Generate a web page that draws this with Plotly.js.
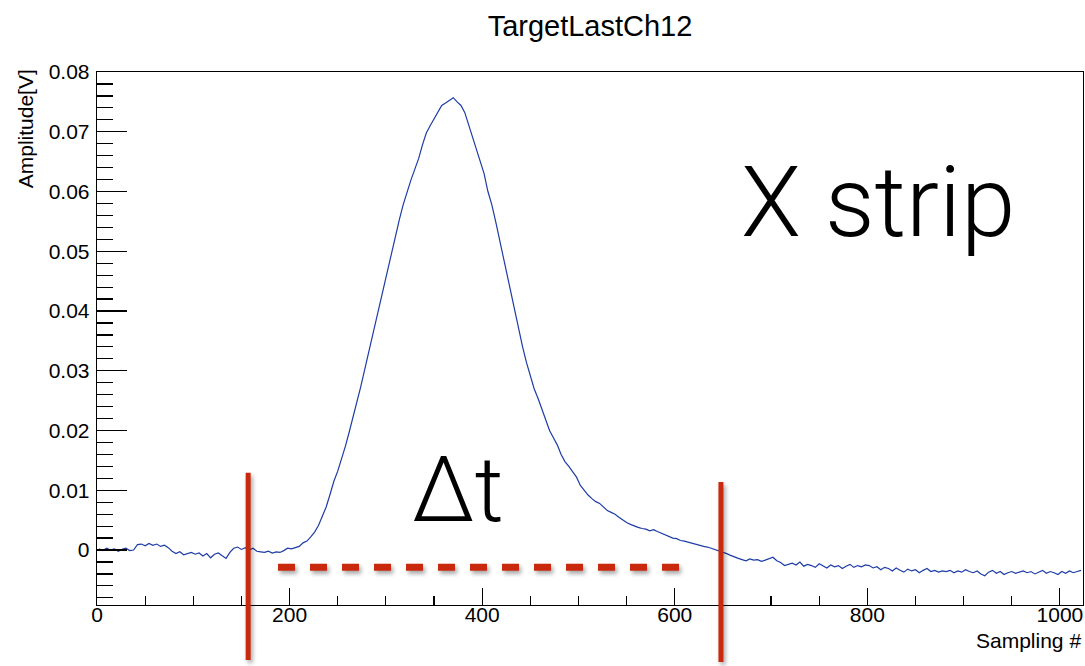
<!DOCTYPE html>
<html>
<head>
<meta charset="utf-8">
<script src="https://cdn.plot.ly/plotly-3.0.1.min.js"></script>
<style>
  html, body { margin: 0; padding: 0; background: #fff; }
  #chart { width: 1085px; height: 666px; }
</style>
</head>
<body>
<div id="chart"></div>
<script>
// Waveform of channel 12, sampled in bins of 4 samples (1024 samples total)
const binWidth = 4;
const amplitude = [
  // 0 - 200
  0.0002, -0.0001, 0.0003, 0.0000, 0.0002, -0.0002, 0.0001, 0.0003, -0.0001, 0.0000,
  0.0009, 0.0010, 0.0007, 0.0011, 0.0008, 0.0010, 0.0006, 0.0008,
  0.0004, -0.0002, -0.0006, -0.0003, -0.0008,
  -0.0006, -0.0004, -0.0007, -0.0005, -0.0010, -0.0006, -0.0013, -0.0007, -0.0005, -0.0009, -0.0014, -0.0004,
  0.0003, 0.0005, 0.0001, 0.0004, 0.0000, 0.0003, -0.0002,
  -0.0003, -0.0004, -0.0002, -0.0005, -0.0003, -0.0004, -0.0001, 0.0003,
  // 200 - 400 (rising edge and peak)
  0.0002, 0.0004, 0.0006, 0.0012, 0.0015, 0.0022, 0.0030, 0.0041, 0.0056, 0.0072,
  0.0093, 0.0115, 0.0132, 0.0152, 0.0174, 0.0198, 0.0222, 0.0248, 0.0274, 0.0302,
  0.0330, 0.0358, 0.0388, 0.0414, 0.0444, 0.0474, 0.0502, 0.0528, 0.0553, 0.0578,
  0.0600, 0.0619, 0.0637, 0.0655, 0.0678, 0.0698, 0.0710, 0.0722, 0.0733, 0.0744,
  0.0748, 0.0752, 0.0757, 0.0750, 0.0744, 0.0732, 0.0712, 0.0693, 0.0673, 0.0650,
  // 400 - 600 (falling edge)
  0.0630, 0.0600, 0.0578, 0.0550, 0.0520, 0.0490, 0.0458, 0.0428, 0.0398, 0.0370,
  0.0340, 0.0314, 0.0290, 0.0270, 0.0254, 0.0236, 0.0218, 0.0200, 0.0188, 0.0176,
  0.0160, 0.0148, 0.0140, 0.0131, 0.0122, 0.0108, 0.0100, 0.0092, 0.0086, 0.0081,
  0.0078, 0.0072, 0.0066, 0.0063, 0.0060, 0.0055, 0.0050, 0.0046, 0.0043, 0.0040,
  0.0038, 0.0036, 0.0035, 0.0032, 0.0034, 0.0031, 0.0028, 0.0025, 0.0023, 0.0020,
  // 600 - 720
  0.0019, 0.0016, 0.0015, 0.0013, 0.0012, 0.0010, 0.0008, 0.0006, 0.0005, 0.0003,
  0.0001, -0.0002, -0.0003, -0.0006, -0.0009, -0.0012, -0.0014, -0.0016, -0.0018, -0.0015,
  -0.0017, -0.0016, -0.0019, -0.0017, -0.0014, -0.0012, -0.0018, -0.0021, -0.0026, -0.0024,
  // 720 - 1024 (tail)
  -0.0022, -0.0025, -0.0020, -0.0027, -0.0024, -0.0026, -0.0029, -0.0023, -0.0027, -0.0030,
  -0.0025, -0.0028, -0.0026, -0.0031, -0.0027, -0.0024, -0.0029, -0.0026, -0.0028, -0.0025,
  -0.0026, -0.0030, -0.0028, -0.0033, -0.0029, -0.0031, -0.0035, -0.0030, -0.0034, -0.0037,
  -0.0032, -0.0035, -0.0033, -0.0038, -0.0034, -0.0031, -0.0036, -0.0034, -0.0037, -0.0035,
  -0.0036, -0.0034, -0.0038, -0.0035, -0.0037, -0.0033, -0.0036, -0.0038, -0.0035, -0.0040,
  -0.0043, -0.0037, -0.0034, -0.0039, -0.0036, -0.0041, -0.0038, -0.0036, -0.0039, -0.0037,
  -0.0035, -0.0038, -0.0036, -0.0040, -0.0037, -0.0034, -0.0039, -0.0036, -0.0038, -0.0041,
  -0.0036, -0.0039, -0.0035, -0.0038, -0.0036, -0.0034
];
const samplingNo = amplitude.map((_, i) => i * binWidth + binWidth / 2);

// Pulse window markers (sampling #) and the Δt bar
const windowStart = 157;
const windowEnd = 648;
const deltaBarX = [188, 605];
const deltaBarY = -0.0029;

const xRange = [0, 1024];
const yRange = [-0.0092, 0.08];

const red = '#c9290c';
const txtFont = { family: 'Liberation Sans, Arial, sans-serif', size: 21, color: '#000' };

const trace = {
  x: samplingNo,
  y: amplitude,
  type: 'scatter',
  mode: 'lines',
  line: { color: '#1d3ca6', width: 1.2, shape: 'linear' },
  hoverinfo: 'skip'
};

const layout = {
  width: 1085,
  height: 666,
  margin: { l: 97, r: 2, t: 72, b: 61 },
  paper_bgcolor: '#fff',
  plot_bgcolor: '#fff',
  showlegend: false,
  title: {
    text: 'TargetLastCh12',
    font: { family: 'Liberation Sans, Arial, sans-serif', size: 29, color: '#000' },
    xref: 'paper', x: 0.5, xanchor: 'center',
    yref: 'container', y: 1 - 26 / 666, yanchor: 'middle'
  },
  xaxis: {
    range: xRange,
    showgrid: false, zeroline: false,
    showline: true, linecolor: '#000', linewidth: 1.3, mirror: true,
    ticks: 'inside', ticklen: 17, tickwidth: 1.2, tickcolor: '#000',
    tick0: 0, dtick: 200,
    minor: { ticks: 'inside', ticklen: 9, dtick: 50, tickwidth: 1.2, tickcolor: '#000', showgrid: false },
    tickfont: txtFont,
    ticklabelstandoff: -10
  },
  yaxis: {
    range: yRange,
    showgrid: false, zeroline: false,
    showline: true, linecolor: '#000', linewidth: 1.3, mirror: true,
    ticks: 'inside', ticklen: 30, tickwidth: 1.2, tickcolor: '#000',
    tick0: 0, dtick: 0.01,
    minor: { ticks: 'inside', ticklen: 16, dtick: 0.002, tickwidth: 1.2, tickcolor: '#000', showgrid: false },
    tickfont: txtFont,
    ticklabelstandoff: 2
  },
  annotations: [
    {
      text: 'Sampling #', font: txtFont, showarrow: false,
      xref: 'paper', yref: 'paper', x: 1, y: -0.0675, xanchor: 'right', yanchor: 'middle'
    },
    {
      text: 'Amplitude[V]', font: txtFont, showarrow: false, textangle: -90,
      xref: 'paper', yref: 'paper', x: -0.073, y: 1.008, xanchor: 'center', yanchor: 'top'
    },
    {
      text: 'X strip', showarrow: false,
      font: { family: 'Roboto, sans-serif', size: 98, color: '#000', weight: 300 },
      xref: 'x', yref: 'y', x: 667, y: 0.0581, xanchor: 'left', yanchor: 'middle'
    },
    {
      text: 'Δt', showarrow: false,
      font: { family: 'Roboto, sans-serif', size: 90, color: '#000', weight: 300 },
      xref: 'x', yref: 'y', x: 325, y: 0.0100, xanchor: 'left', yanchor: 'middle'
    }
  ],
  shapes: [
    {
      type: 'line', xref: 'x', yref: 'paper',
      x0: windowStart, x1: windowStart, y0: -0.103, y1: 0.248,
      line: { color: red, width: 5 }
    },
    {
      type: 'line', xref: 'x', yref: 'paper',
      x0: windowEnd, x1: windowEnd, y0: -0.107, y1: 0.231,
      line: { color: red, width: 5 }
    },
    {
      type: 'line', xref: 'x', yref: 'y',
      x0: deltaBarX[0], x1: deltaBarX[1], y0: deltaBarY, y1: deltaBarY,
      line: { color: red, width: 7, dash: '17px,15px' }
    }
  ]
};

Plotly.newPlot('chart', [trace], layout, { staticPlot: true, displayModeBar: false }).then(function () {
  // soft drop shadow under the red markers
  document.querySelectorAll('.shapelayer path').forEach(function (p) {
    p.style.filter = 'drop-shadow(2px 3px 2px rgba(0,0,0,0.35))';
  });
});
</script>
</body>
</html>
